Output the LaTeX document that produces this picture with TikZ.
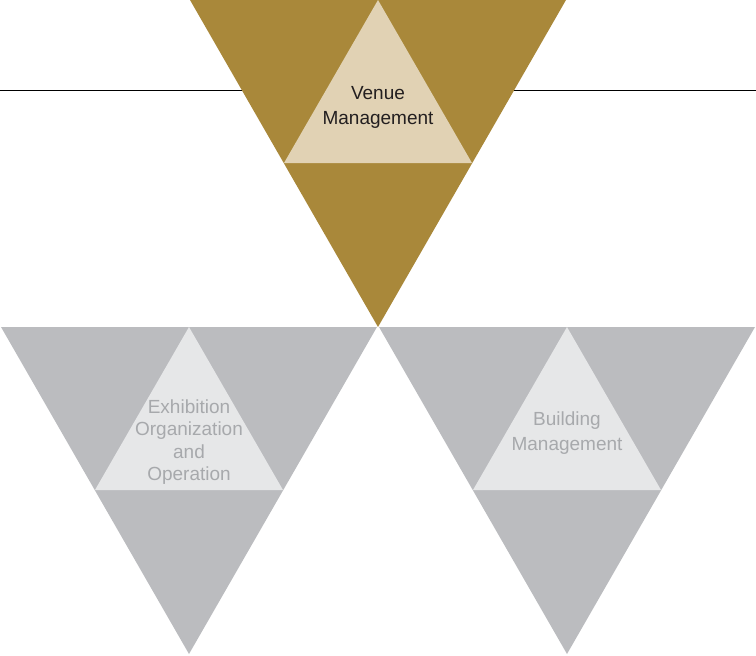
\documentclass[tikz,border=0pt]{standalone}
\usepackage{fontspec}
\setmainfont{Liberation Sans}
\definecolor{gold}{HTML}{A9883A}
\definecolor{goldlight}{HTML}{E1D2B4}
\definecolor{greydark}{HTML}{BBBCBF}
\definecolor{greylight}{HTML}{E6E7E8}
\definecolor{greytext}{HTML}{A7A9AC}
\definecolor{darktext}{HTML}{231F20}
\begin{document}
\begin{tikzpicture}[x=1pt,y=-1pt,
  labelstyle/.style={align=center,font=\fontsize{19}{25}\selectfont}]
\useasboundingbox (0,0) rectangle (756,656);
\draw[line width=0.8pt,black] (0,90) -- (756,90);
\foreach \cx/\ty/\outer/\inner/\name in {378/0/gold/goldlight/venue,189/327/greydark/greylight/exhib,567/327/greydark/greylight/build}
{
\fill[\outer] (\cx-188,\ty) -- (\cx+188,\ty) -- (\cx,\ty+327) -- cycle;
\fill[\inner] (\cx,\ty) -- (\cx-94,\ty+163) -- (\cx+94,\ty+163) -- cycle;
\coordinate (\name) at (\cx,\ty);
}
\node[labelstyle,text=darktext] (venuelabel) at ([yshift=-107]venue) {Venue\\Management};
\node[labelstyle,text=greytext,font=\fontsize{19}{22.5}\selectfont] (exhiblabel) at ([yshift=-115]exhib) {Exhibition\\Organization\\and\\Operation};
\node[labelstyle,text=greytext] (buildlabel) at ([yshift=-106]build) {Building\\Management};
\end{tikzpicture}
\end{document}
